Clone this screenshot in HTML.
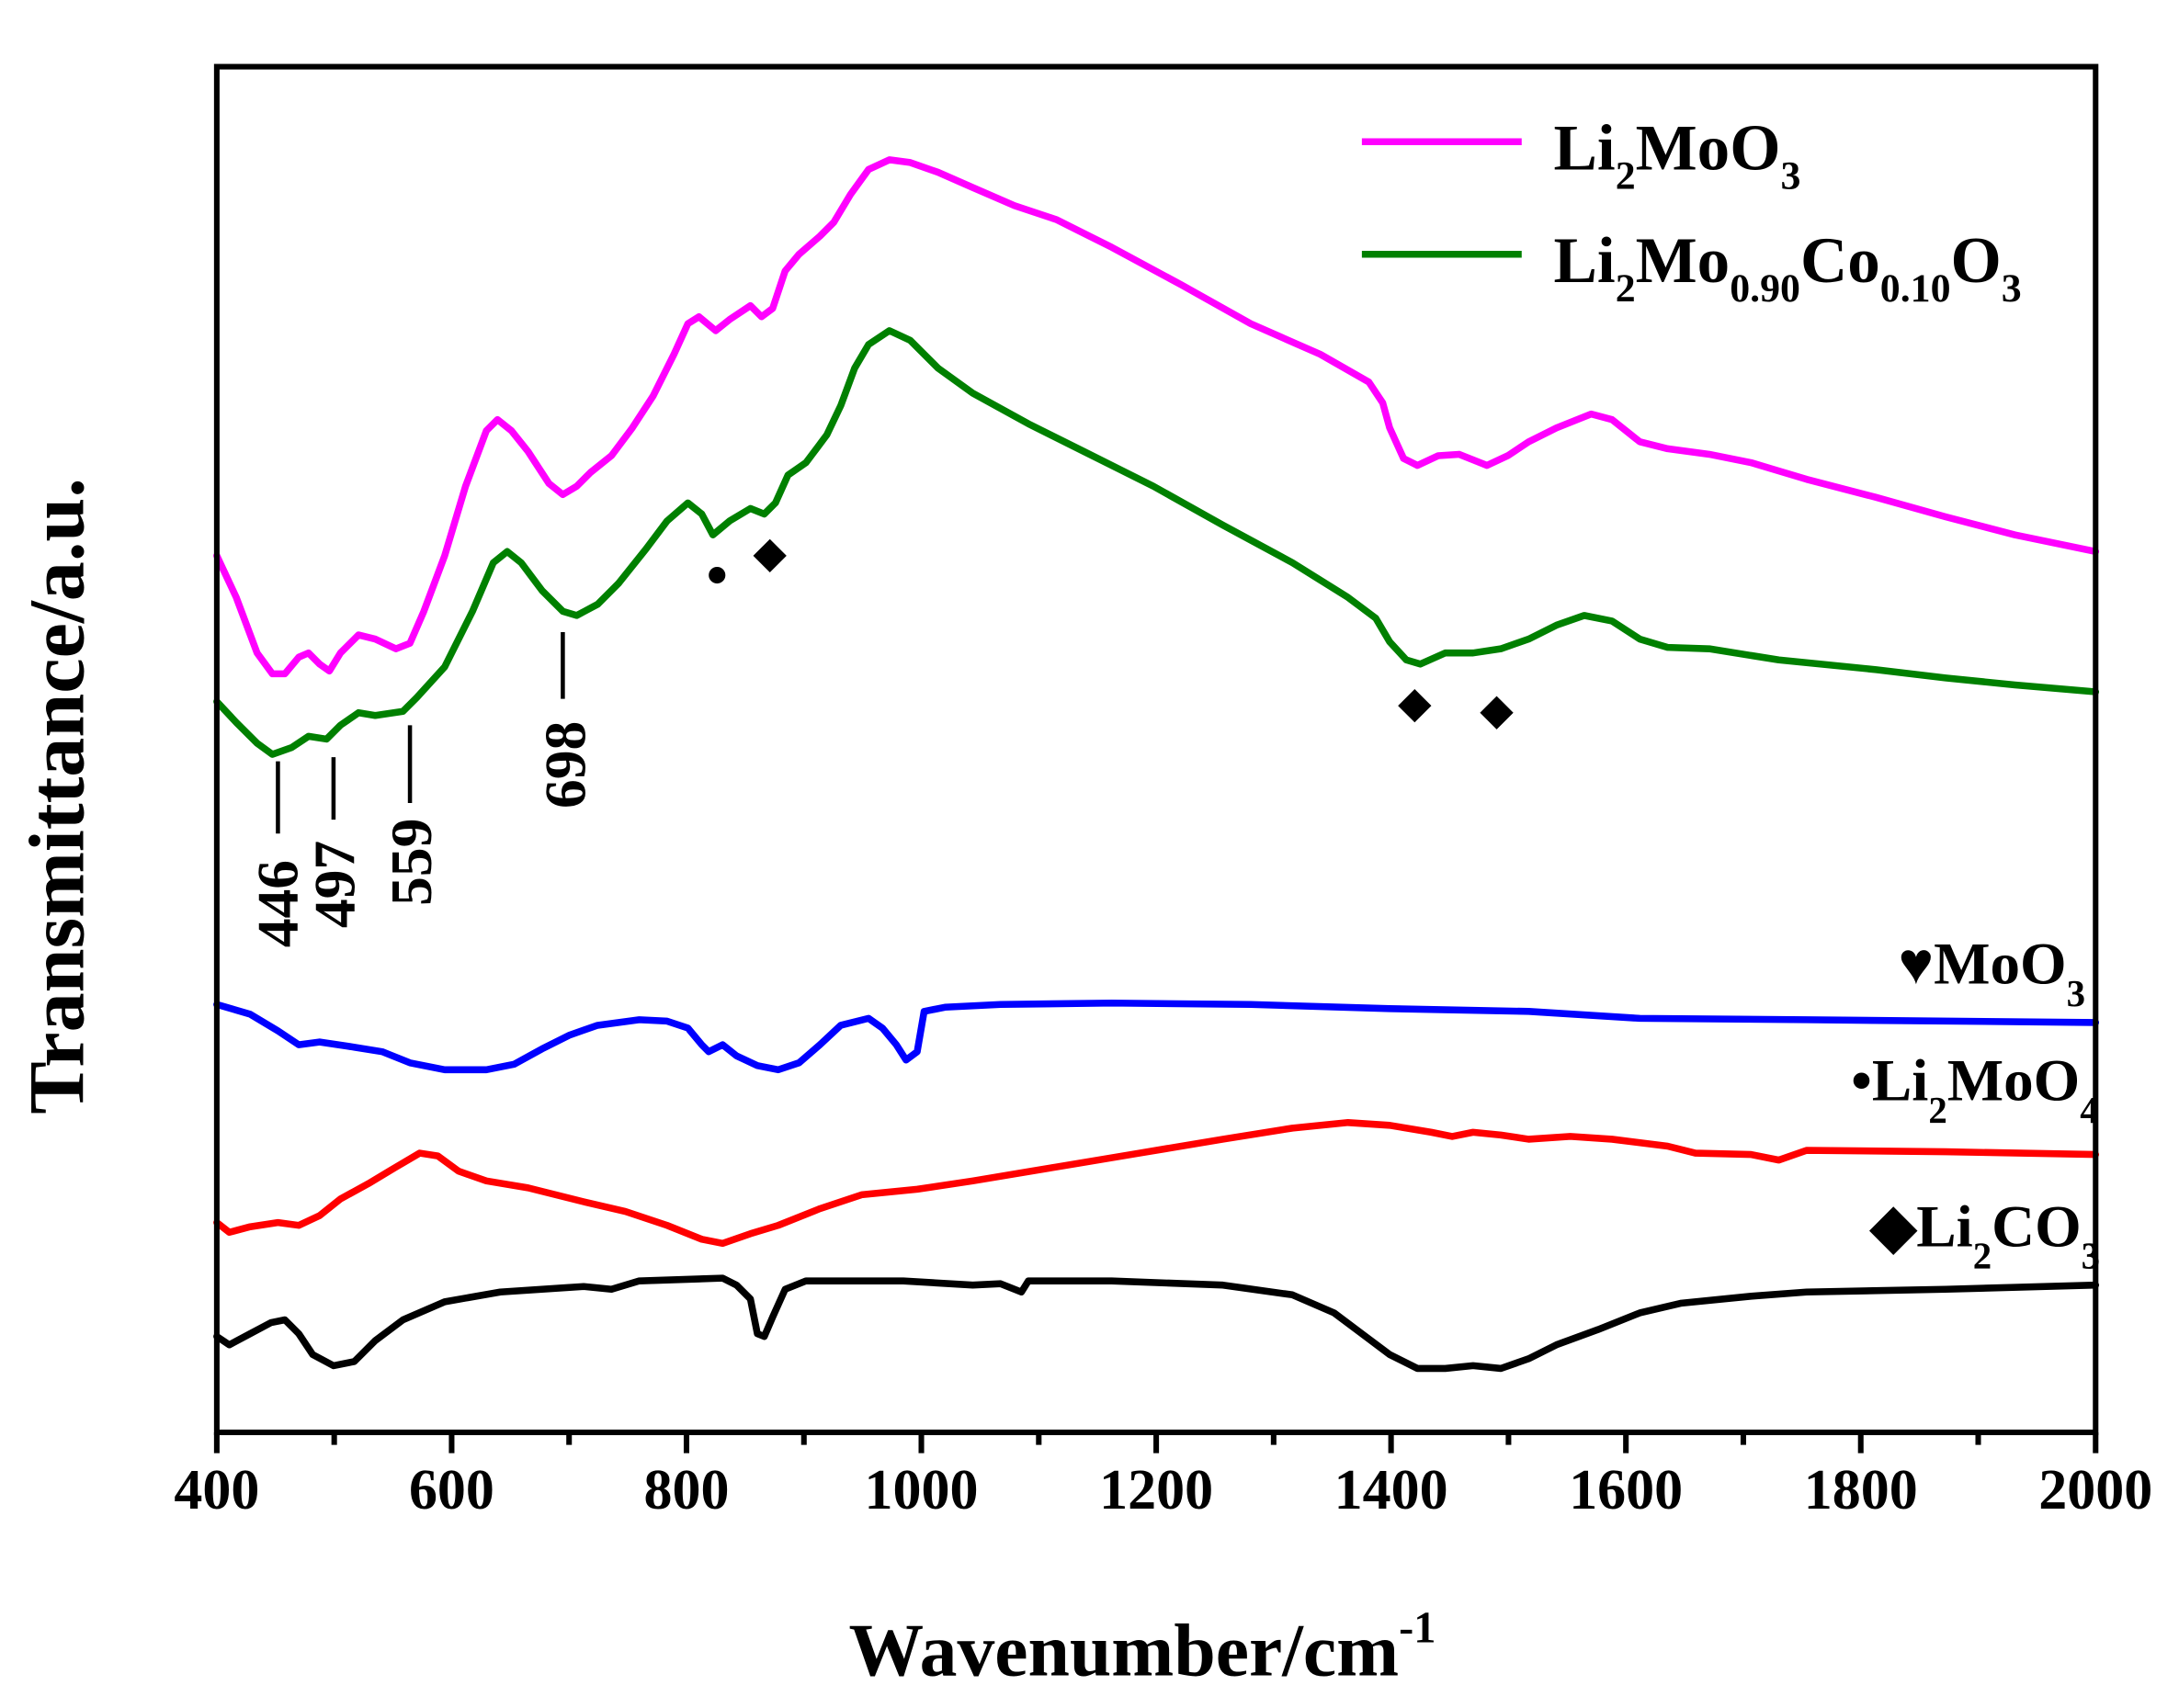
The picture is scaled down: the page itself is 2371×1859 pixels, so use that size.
<!DOCTYPE html>
<html><head><meta charset="utf-8"><style>
html,body{margin:0;padding:0;background:#fff;}
svg{display:block;}
text{font-family:"Liberation Serif",serif;font-weight:bold;fill:#000;}
</style></head><body>
<svg width="2371" height="1859" viewBox="0 0 1568 1229.4" xmlns="http://www.w3.org/2000/svg">
<rect x="0" y="0" width="1568" height="1230" fill="#fff"/>
<g fill="none" stroke-width="5" stroke-linejoin="round" stroke-linecap="round">
<polyline stroke="#ff00ff" points="156,400 170,430 185,470 196,485 205,485 215,473 222,470 230,478 237,483 245,470 258,457 270,460 285,467 295,463 305,440 320,400 335,350 350,310 358,302 368,310 380,325 395,348 405,356 415,350 425,340 440,328 455,308 470,285 485,255 495,233 503,228 515,238 525,230 540,220 548,228 556,222 565,195 575,183 590,170 600,160 612,140 625,122 640,115 655,117 675,124 700,135 730,148 760,158 800,178 850,205 900,233 950,255 985,275 995,290 1000,308 1010,330 1020,335 1035,328 1050,327 1070,335 1085,328 1100,318 1120,308 1145,298 1160,302 1180,318 1200,323 1230,327 1260,333 1300,345 1350,358 1400,372 1450,385 1508,397"/>
<polyline stroke="#008000" points="156,505 170,520 185,535 196,543 210,538 222,530 235,532 245,522 258,513 270,515 290,512 300,502 320,480 340,440 355,405 365,397 375,405 390,425 405,440 415,443 430,435 445,420 465,395 480,375 495,362 505,370 513,385 525,375 540,366 550,370 558,362 567,342 580,333 595,313 605,292 615,265 625,248 640,238 655,245 675,265 700,283 740,305 780,325 830,350 880,378 930,405 970,430 990,445 1000,462 1012,475 1022,478 1040,470 1060,470 1080,467 1100,460 1120,450 1140,443 1160,447 1180,460 1200,466 1230,467 1280,475 1350,482 1400,488 1450,493 1508,498"/>
<polyline stroke="#0000ff" points="156,723 180,730 200,742 215,752 230,750 250,753 275,757 295,765 320,770 350,770 370,766 390,755 410,745 430,738 460,734 480,735 495,740 505,752 510,757 520,752 530,760 545,767 560,770 575,765 590,752 605,738 625,733 635,740 645,752 652,763 660,757 665,728 680,725 720,723 800,722 900,723 1000,726 1100,728 1180,733 1300,734 1508,736"/>
<polyline stroke="#ff0000" points="156,880 165,887 180,883 200,880 215,882 230,875 245,863 265,852 285,840 302,830 315,832 330,843 350,850 380,855 420,865 450,872 480,882 505,892 520,895 540,888 560,882 590,870 620,860 660,856 700,850 760,840 820,830 880,820 930,812 970,808 1000,810 1030,815 1045,818 1060,815 1080,817 1100,820 1130,818 1160,820 1200,825 1220,830 1260,831 1280,835 1300,828 1400,829 1508,831"/>
<polyline stroke="#000" points="156,962 165,968 180,960 195,952 205,950 215,960 225,975 240,983 255,980 270,965 290,950 320,937 360,930 420,926 440,928 460,922 520,920 530,925 540,935 545,960 550,962 556,948 565,928 580,922 650,922 700,925 720,924 735,930 740,922 800,922 880,925 930,932 960,945 980,960 1000,975 1020,985 1040,985 1060,983 1080,985 1100,978 1120,968 1150,957 1180,945 1210,938 1260,933 1300,930 1400,928 1508,925"/>
</g>
<g stroke="#000" stroke-width="4" fill="none">
<rect x="156" y="48" width="1352" height="983"/>
<path d="M156,1031V1046M325,1031V1046M494,1031V1046M663,1031V1046M832,1031V1046M1001,1031V1046M1170,1031V1046M1339,1031V1046M1508,1031V1046"/>
<path d="M240.5,1031V1040M409.5,1031V1040M578.5,1031V1040M747.5,1031V1040M916.5,1031V1040M1085.5,1031V1040M1254.5,1031V1040M1423.5,1031V1040"/>
</g>
<g font-size="41" text-anchor="middle">
<text x="156" y="1086">400</text><text x="325" y="1086">600</text><text x="494" y="1086">800</text><text x="663" y="1086">1000</text><text x="832" y="1086">1200</text><text x="1001" y="1086">1400</text><text x="1170" y="1086">1600</text><text x="1339" y="1086">1800</text><text x="1508" y="1086">2000</text>
</g>
<text x="822" y="1206" font-size="54" text-anchor="middle">Wavenumber/cm<tspan font-size="32" dy="-24">-1</tspan></text>
<text transform="translate(60,573) rotate(-90)" font-size="57" text-anchor="middle">Transmittance/a.u.</text>
<g stroke="#000" stroke-width="3">
<path d="M200,548V600M240,545V590M295,522V578M405,455V503"/>
</g>
<g font-size="42">
<text transform="translate(214,682) rotate(-90)">446</text>
<text transform="translate(255,668) rotate(-90)">497</text>
<text transform="translate(310,652) rotate(-90)">559</text>
<text transform="translate(421,582) rotate(-90)">698</text>
</g>
<circle cx="516" cy="414" r="6" fill="#000"/>
<path d="M554,388L566,400L554,412L542,400Z" fill="#000"/>
<path d="M1018,496L1030,508L1018,520L1006,508Z" fill="#000"/>
<path d="M1077,501L1089,513L1077,525L1065,513Z" fill="#000"/>
<line x1="980" y1="102" x2="1095" y2="102" stroke="#ff00ff" stroke-width="5"/>
<line x1="980" y1="183" x2="1095" y2="183" stroke="#008000" stroke-width="5"/>
<text x="1118" y="122" font-size="47">Li<tspan font-size="29" dy="14">2</tspan><tspan dy="-14">MoO</tspan><tspan font-size="29" dy="14">3</tspan></text>
<text x="1118" y="203" font-size="47">Li<tspan font-size="29" dy="14">2</tspan><tspan dy="-14">Mo</tspan><tspan font-size="29" dy="14">0.90</tspan><tspan dy="-14">Co</tspan><tspan font-size="29" dy="14">0.10</tspan><tspan dy="-14">O</tspan><tspan font-size="29" dy="14">3</tspan></text>
<text x="1366" y="708" font-size="43">♥MoO<tspan font-size="27" dy="16">3</tspan></text>
<text x="1332" y="792" font-size="43">•Li<tspan font-size="27" dy="16">2</tspan><tspan dy="-16">MoO</tspan><tspan font-size="27" dy="16">4</tspan></text>
<text x="1346" y="897" font-size="43">◆Li<tspan font-size="27" dy="16">2</tspan><tspan dy="-16">CO</tspan><tspan font-size="27" dy="16">3</tspan></text>
</svg>
</body></html>
